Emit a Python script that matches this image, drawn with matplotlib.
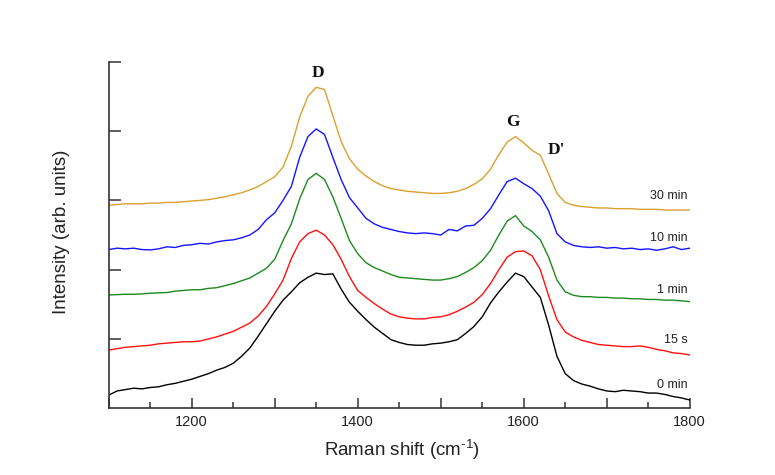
import numpy as np
import matplotlib
matplotlib.use("Agg")
import matplotlib.pyplot as plt

plt.rcParams['font.family'] = ['Liberation Sans', 'DejaVu Sans']
plt.rcParams['mathtext.fontset'] = 'custom'
plt.rcParams['mathtext.rm'] = 'Liberation Sans'
plt.rcParams['mathtext.it'] = 'Liberation Sans'

# Raman shift grid (cm^-1), every 10 cm^-1 from 1100 to 1800
shift = list(range(1100, 1801, 10))

spec_0min = [0.19, 0.25, 0.27, 0.29, 0.28, 0.30, 0.31, 0.34, 0.36, 0.39,
             0.42, 0.46, 0.50, 0.55, 0.59, 0.65, 0.75, 0.87, 1.04, 1.22,
             1.40, 1.56, 1.68, 1.81, 1.89, 1.95, 1.93, 1.94, 1.72, 1.53,
             1.40, 1.28, 1.17, 1.08, 0.99, 0.95, 0.92, 0.91, 0.91, 0.93,
             0.94, 0.96, 0.99, 1.08, 1.18, 1.32, 1.52, 1.68, 1.82, 1.95,
             1.90, 1.75, 1.60, 1.20, 0.75, 0.50, 0.40, 0.35, 0.32, 0.28,
             0.25, 0.24, 0.26, 0.25, 0.24, 0.22, 0.22, 0.20, 0.17, 0.15,
             0.12]

spec_15s = [0.84, 0.86, 0.88, 0.89, 0.90, 0.91, 0.93, 0.94, 0.95, 0.96,
            0.96, 0.97, 1.00, 1.03, 1.07, 1.11, 1.17, 1.23, 1.33, 1.47,
            1.65, 1.85, 2.16, 2.40, 2.52, 2.57, 2.50, 2.36, 2.15, 1.90,
            1.70, 1.60, 1.51, 1.43, 1.36, 1.32, 1.30, 1.29, 1.29, 1.31,
            1.32, 1.35, 1.40, 1.46, 1.53, 1.64, 1.80, 2.00, 2.18, 2.26,
            2.27, 2.20, 2.00, 1.62, 1.28, 1.10, 1.03, 0.98, 0.95, 0.92,
            0.91, 0.90, 0.89, 0.89, 0.90, 0.88, 0.85, 0.83, 0.80, 0.79,
            0.77]

spec_1min = [1.635, 1.64, 1.645, 1.645, 1.65, 1.66, 1.665, 1.67, 1.69, 1.70,
             1.71, 1.71, 1.73, 1.74, 1.77, 1.80, 1.84, 1.88, 1.95, 2.02,
             2.15, 2.42, 2.66, 3.02, 3.30, 3.39, 3.30, 3.05, 2.74, 2.42,
             2.23, 2.10, 2.03, 1.98, 1.93, 1.89, 1.88, 1.87, 1.86, 1.85,
             1.85, 1.87, 1.90, 1.96, 2.03, 2.13, 2.28, 2.50, 2.70, 2.78,
             2.63, 2.55, 2.43, 2.18, 1.85, 1.68, 1.63, 1.61, 1.61, 1.60,
             1.60, 1.59, 1.59, 1.58, 1.58, 1.57, 1.57, 1.56, 1.56, 1.55,
             1.54]

spec_10min = [2.29, 2.31, 2.30, 2.31, 2.29, 2.285, 2.30, 2.33, 2.32, 2.35,
              2.36, 2.38, 2.37, 2.40, 2.42, 2.43, 2.46, 2.50, 2.58, 2.72,
              2.82, 3.00, 3.20, 3.62, 3.92, 4.03, 3.95, 3.62, 3.30, 3.04,
              2.89, 2.74, 2.66, 2.61, 2.58, 2.55, 2.53, 2.52, 2.53, 2.52,
              2.50, 2.58, 2.56, 2.63, 2.64, 2.74, 2.88, 3.08, 3.27, 3.32,
              3.24, 3.17, 3.06, 2.85, 2.52, 2.40, 2.35, 2.33, 2.32, 2.33,
              2.31, 2.32, 2.30, 2.31, 2.29, 2.30, 2.28, 2.30, 2.33, 2.29,
              2.31]

spec_30min = [2.93, 2.94, 2.95, 2.95, 2.95, 2.96, 2.96, 2.97, 2.97, 2.98,
              2.99, 3.00, 3.01, 3.03, 3.05, 3.08, 3.11, 3.15, 3.20, 3.27,
              3.34, 3.48, 3.78, 4.20, 4.50, 4.63, 4.60, 4.22, 3.85, 3.60,
              3.45, 3.35, 3.27, 3.21, 3.17, 3.15, 3.13, 3.12, 3.11, 3.10,
              3.10, 3.11, 3.13, 3.17, 3.23, 3.31, 3.45, 3.66, 3.84, 3.92,
              3.83, 3.72, 3.65, 3.38, 3.10, 2.97, 2.93, 2.91, 2.90, 2.89,
              2.89, 2.88, 2.88, 2.88, 2.87, 2.87, 2.87, 2.86, 2.86, 2.86,
              2.86]

series = [spec_0min, spec_15s, spec_1min, spec_10min, spec_30min]
series_labels = ["0 min", "15 s", "1 min", "10 min", "30 min"]
series_colors = ["#000000", "#FF1010", "#1E8A1E", "#1414FF", "#DAA030"]
label_y = [0.34, 0.99, 1.71, 2.46, 3.06]

peak_names = ["D", "G", "D'"]
peak_x = [1352, 1587, 1639]
peak_y = [4.84, 4.13, 3.73]

xtick_vals = [1100, 1200, 1300, 1400, 1500, 1600, 1700, 1800]
xtick_labels = ["", "1200", "", "1400", "", "1600", "", "1800"]
ytick_vals = [1, 2, 3, 4, 5]

fig = plt.figure(figsize=(7.75, 4.75), dpi=100)
ax = fig.add_axes([0.1403, 0.1404, 0.7497, 0.7297])

for ys, c in zip(series, series_colors):
    ax.plot(shift, ys, color=c, lw=1.0)

for lab, ly in zip(series_labels, label_y):
    ax.text(1797, ly, lab, ha='right', va='center', fontsize=9, color='#222222')

for name, px, py in zip(peak_names, peak_x, peak_y):
    ax.text(px, py, name, ha='center', va='center', fontsize=12.5,
            fontweight='bold', family=['Liberation Serif', 'DejaVu Serif'],
            color='#111111')

ax.set_xlim(1100, 1800)
ax.set_ylim(0, 5)
ax.set_xticks(xtick_vals)
ax.set_xticklabels(xtick_labels)
ax.set_xticks(list(range(1150, 1800, 100)), minor=True)
ax.set_yticks(ytick_vals)
ax.set_yticklabels([])

for s in ['top', 'right']:
    ax.spines[s].set_visible(False)
for s in ['left', 'bottom']:
    ax.spines[s].set_color('#333333')
    ax.spines[s].set_linewidth(1.2)

ax.tick_params(axis='x', which='major', direction='in', length=7.5, width=1.1,
               color='#333333', labelsize=10.5, pad=5, labelcolor='#222222')
ax.tick_params(axis='x', which='minor', direction='in', length=4, width=1.1,
               color='#333333')
ax.tick_params(axis='y', which='major', direction='in', length=8.5, width=1.1,
               color='#333333')

fig.text(62 / 775, 1 - 232 / 475, "Intensity (arb. units)", rotation=90,
         ha='center', va='center', fontsize=13.5, color='#222222')
fig.text(402 / 775, 1 - 450 / 475, "Raman shift (cm$^{\u2010 1}$)",
         ha='center', va='center', fontsize=13.5, color='#222222')

fig.savefig("out.png", dpi=100)
